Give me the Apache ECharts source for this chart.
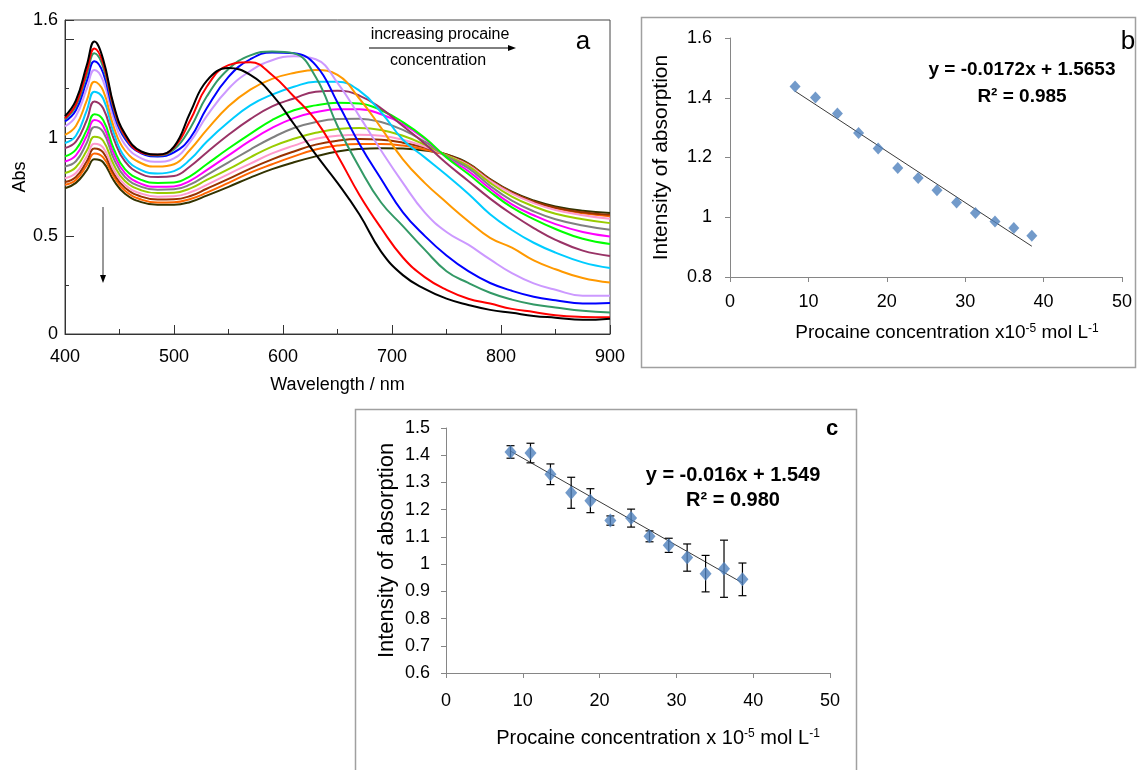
<!DOCTYPE html>
<html><head><meta charset="utf-8">
<script src="https://cdn.jsdelivr.net/npm/echarts@6/dist/echarts.min.js"></script>
<style>html,body{margin:0;padding:0;background:#fff}#c{width:1137px;height:770px}</style>
</head><body><div id="c"></div><script>
// ---------- Panel a: absorption spectra ----------
const wavelengths = [400, 410, 420, 427, 435, 445, 455, 470, 485, 500, 515, 530, 550, 570, 590, 610, 630, 650, 670, 690, 710, 730, 750, 770, 790, 810, 830, 850, 875, 900];
const abs01 = [1.11, 1.19, 1.37, 1.49, 1.40, 1.16, 1.02, 0.93, 0.915, 0.955, 1.13, 1.29, 1.355, 1.32, 1.22, 1.07, 0.915, 0.77, 0.61, 0.42, 0.30, 0.23, 0.18, 0.148, 0.123, 0.108, 0.092, 0.083, 0.072, 0.078];
const abs02 = [1.10, 1.17, 1.34, 1.455, 1.38, 1.15, 1.01, 0.925, 0.913, 0.95, 1.09, 1.26, 1.37, 1.385, 1.32, 1.21, 1.09, 0.91, 0.71, 0.54, 0.39, 0.29, 0.225, 0.18, 0.155, 0.128, 0.112, 0.095, 0.087, 0.085];
const abs03 = [1.095, 1.16, 1.32, 1.43, 1.36, 1.14, 1.005, 0.925, 0.91, 0.94, 1.05, 1.21, 1.35, 1.42, 1.44, 1.43, 1.31, 1.06, 0.85, 0.67, 0.55, 0.43, 0.32, 0.26, 0.21, 0.175, 0.15, 0.135, 0.118, 0.11];
const abs04 = [1.083, 1.14, 1.29, 1.39, 1.33, 1.12, 0.995, 0.92, 0.905, 0.925, 1.00, 1.15, 1.31, 1.40, 1.435, 1.43, 1.37, 1.18, 0.97, 0.79, 0.62, 0.50, 0.40, 0.32, 0.26, 0.22, 0.19, 0.172, 0.155, 0.158];
const abs05 = [1.058, 1.11, 1.25, 1.345, 1.29, 1.09, 0.965, 0.895, 0.878, 0.895, 0.98, 1.11, 1.25, 1.34, 1.395, 1.415, 1.40, 1.28, 1.11, 0.935, 0.77, 0.62, 0.52, 0.455, 0.38, 0.31, 0.258, 0.225, 0.195, 0.195];
const abs06 = [1.015, 1.06, 1.19, 1.285, 1.24, 1.05, 0.935, 0.87, 0.853, 0.865, 0.94, 1.04, 1.16, 1.245, 1.30, 1.33, 1.345, 1.32, 1.20, 1.05, 0.89, 0.77, 0.67, 0.575, 0.49, 0.44, 0.375, 0.33, 0.285, 0.262];
const abs07 = [0.973, 1.01, 1.14, 1.235, 1.20, 1.02, 0.90, 0.835, 0.818, 0.83, 0.89, 0.98, 1.08, 1.165, 1.22, 1.26, 1.285, 1.285, 1.24, 1.13, 0.99, 0.90, 0.81, 0.715, 0.61, 0.53, 0.465, 0.415, 0.365, 0.336];
const abs08 = [0.947, 0.98, 1.09, 1.185, 1.15, 0.99, 0.88, 0.815, 0.80, 0.805, 0.855, 0.925, 1.015, 1.095, 1.16, 1.20, 1.235, 1.24, 1.215, 1.15, 1.06, 0.97, 0.87, 0.78, 0.69, 0.61, 0.54, 0.48, 0.425, 0.398];
const abs09 = [0.905, 0.94, 1.04, 1.12, 1.09, 0.94, 0.84, 0.785, 0.77, 0.772, 0.805, 0.865, 0.945, 1.02, 1.09, 1.14, 1.165, 1.178, 1.175, 1.14, 1.08, 1.00, 0.90, 0.815, 0.725, 0.645, 0.585, 0.535, 0.485, 0.459];
const abs10 = [0.879, 0.91, 1.01, 1.09, 1.06, 0.915, 0.82, 0.765, 0.75, 0.752, 0.782, 0.835, 0.91, 0.985, 1.05, 1.10, 1.13, 1.145, 1.145, 1.12, 1.07, 0.995, 0.90, 0.83, 0.74, 0.66, 0.605, 0.56, 0.52, 0.497];
const abs11 = [0.854, 0.88, 0.975, 1.055, 1.03, 0.89, 0.80, 0.75, 0.735, 0.737, 0.762, 0.81, 0.875, 0.94, 1.00, 1.05, 1.08, 1.095, 1.097, 1.08, 1.04, 0.98, 0.905, 0.845, 0.755, 0.68, 0.625, 0.585, 0.553, 0.531];
const abs12 = [0.82, 0.85, 0.935, 1.005, 0.985, 0.86, 0.78, 0.732, 0.718, 0.72, 0.742, 0.785, 0.84, 0.90, 0.955, 0.995, 1.025, 1.045, 1.05, 1.04, 1.01, 0.965, 0.91, 0.855, 0.77, 0.70, 0.65, 0.613, 0.585, 0.565];
const abs13 = [0.794, 0.82, 0.905, 0.97, 0.95, 0.835, 0.76, 0.715, 0.70, 0.702, 0.722, 0.76, 0.815, 0.868, 0.92, 0.96, 0.995, 1.01, 1.015, 1.01, 0.99, 0.955, 0.91, 0.86, 0.78, 0.715, 0.667, 0.632, 0.605, 0.587];
const abs14 = [0.774, 0.80, 0.88, 0.945, 0.925, 0.815, 0.745, 0.70, 0.685, 0.686, 0.703, 0.74, 0.79, 0.843, 0.89, 0.93, 0.965, 0.985, 0.993, 0.99, 0.975, 0.95, 0.915, 0.865, 0.785, 0.72, 0.675, 0.643, 0.62, 0.607];
const abs15 = [0.76, 0.785, 0.86, 0.92, 0.90, 0.80, 0.73, 0.685, 0.67, 0.671, 0.688, 0.72, 0.77, 0.822, 0.865, 0.905, 0.94, 0.96, 0.968, 0.968, 0.96, 0.94, 0.91, 0.865, 0.785, 0.72, 0.673, 0.64, 0.615, 0.60];
const abs16 = [0.743, 0.77, 0.835, 0.89, 0.875, 0.78, 0.715, 0.672, 0.658, 0.658, 0.673, 0.705, 0.75, 0.797, 0.84, 0.875, 0.905, 0.93, 0.943, 0.947, 0.945, 0.935, 0.915, 0.87, 0.79, 0.725, 0.68, 0.65, 0.628, 0.616];
const spectrumColors = ['#000000', '#ff0000', '#339966', '#0000ff', '#cc99ff', '#ff9900', '#00ccff', '#993366', '#00ff00', '#ff00ff', '#808080', '#99cc00', '#ff99cc', '#993300', '#ff6600', '#333300'];
const yTicksA = [0, 0.5, 1, 1.6];

// ---------- Panel b ----------
const bX = [8.3, 10.9, 13.7, 16.4, 18.9, 21.4, 24.0, 26.4, 28.9, 31.3, 33.8, 36.2, 38.5];
const bY = [1.438, 1.401, 1.347, 1.282, 1.230, 1.165, 1.131, 1.090, 1.049, 1.014, 0.986, 0.964, 0.938];
const bTrendX = [8.3, 38.5];
const bTrendY = [1.422, 0.903];

// ---------- Panel c ----------
const cX = [8.4, 11.0, 13.6, 16.3, 18.8, 21.4, 24.1, 26.5, 29.0, 31.4, 33.8, 36.2, 38.6];
const cY = [1.412, 1.408, 1.330, 1.262, 1.233, 1.160, 1.169, 1.102, 1.069, 1.024, 0.965, 0.983, 0.944];
const cErr = [0.023, 0.036, 0.038, 0.057, 0.044, 0.017, 0.033, 0.020, 0.026, 0.050, 0.067, 0.105, 0.060];
const cTrendX = [8.4, 38.6];
const cTrendY = [1.415, 0.931];

const FONT = "'Liberation Sans', Arial, sans-serif";
const spectra = [abs01, abs02, abs03, abs04, abs05, abs06, abs07, abs08, abs09, abs10, abs11, abs12, abs13, abs14, abs15, abs16];

const chart = echarts.init(document.getElementById('c'), null, {renderer: 'canvas'});

const specSeries = spectra.map((arr, i) => ({
  type: 'line', xAxisIndex: 0, yAxisIndex: 0,
  data: wavelengths.map((w, k) => [w, arr[k]]),
  smooth: 0.45, showSymbol: false, symbol: 'none',
  lineStyle: {width: 2, color: spectrumColors[i]}, itemStyle: {color: spectrumColors[i]},
  z: 20 - i, silent: true
})).reverse();

const grayAxis = '#868686';
const supRich = {sup: {fontSize: 12, verticalAlign: 'top', fontFamily: FONT, color: '#000'}};

function txt(x, y, text, size, weight, extra) {
  return Object.assign({type: 'text', x: x, y: y, silent: true,
    style: {text: text, fontSize: size, fontWeight: weight || 'normal', fontFamily: FONT, fill: '#000',
      align: 'center', verticalAlign: 'middle', textAlign: 'center', textVerticalAlign: 'middle'}}, extra || {});
}

const option = {
  animation: false,
  backgroundColor: '#fff',
  grid: [
    {left: 65, top: 20, width: 545, height: 314, show: true, borderColor: '#444', borderWidth: 1, backgroundColor: 'transparent'},
    {left: 730, top: 38, width: 392, height: 239},
    {left: 446, top: 428, width: 384, height: 245}
  ],
  xAxis: [
    {gridIndex: 0, type: 'value', min: 400, max: 900, interval: 100,
     axisLine: {lineStyle: {color: '#333', width: 1}}, axisTick: {inside: true, length: 9, lineStyle: {color: '#333'}},
     minorTick: {show: true, splitNumber: 2, length: 5, lineStyle: {color: '#333'}},
     axisLabel: {fontSize: 18, color: '#000', fontFamily: FONT, margin: 14}, splitLine: {show: false},
     name: 'Wavelength / nm', nameLocation: 'middle', nameGap: 42,
     nameTextStyle: {fontSize: 18, color: '#000', fontFamily: FONT}},
    {gridIndex: 1, type: 'value', min: 0, max: 50, interval: 10,
     axisLine: {lineStyle: {color: grayAxis}}, axisTick: {length: 5, lineStyle: {color: grayAxis}},
     axisLabel: {fontSize: 18, color: '#000', fontFamily: FONT, margin: 16}, splitLine: {show: false},
     name: 'Procaine concentration x10{sup|-5} mol L{sup|-1}', nameLocation: 'middle', nameGap: 46,
     nameTextStyle: {fontSize: 19, color: '#000', fontFamily: FONT, padding: [0, 0, 0, 42], rich: supRich}},
    {gridIndex: 2, type: 'value', min: 0, max: 50, interval: 10,
     axisLine: {lineStyle: {color: grayAxis}}, axisTick: {length: 5, lineStyle: {color: grayAxis}},
     axisLabel: {fontSize: 18, color: '#000', fontFamily: FONT, margin: 19}, splitLine: {show: false},
     name: 'Procaine concentration x 10{sup|-5} mol L{sup|-1}', nameLocation: 'middle', nameGap: 55,
     nameTextStyle: {fontSize: 20, color: '#000', fontFamily: FONT, padding: [0, 0, 0, 40], rich: supRich}}
  ],
  yAxis: [
    {gridIndex: 0, type: 'value', min: 0, max: 1.6, interval: 0.5,
     axisLine: {show: true, lineStyle: {color: '#333', width: 1}}, axisTick: {show: true, inside: true, length: 9, lineStyle: {color: '#333'}},
     minorTick: {show: true, splitNumber: 2, length: 4, lineStyle: {color: '#333'}},
     axisLabel: {fontSize: 18, color: '#000', fontFamily: FONT, margin: 7,
       formatter: v => (yTicksA.indexOf(Math.round(v * 100) / 100) >= 0 ? String(Math.round(v * 100) / 100) : '')},
     splitLine: {show: false},
     name: 'Abs', nameLocation: 'middle', nameGap: 36, nameRotate: 90,
     nameTextStyle: {fontSize: 18, color: '#000', fontFamily: FONT}},
    {gridIndex: 1, type: 'value', min: 0.8, max: 1.6, interval: 0.2,
     axisLine: {show: true, lineStyle: {color: grayAxis}}, axisTick: {show: true, length: 5, lineStyle: {color: grayAxis}},
     axisLabel: {fontSize: 18, color: '#000', fontFamily: FONT, margin: 18, formatter: v => String(parseFloat(v.toFixed(1)))},
     splitLine: {show: false},
     name: 'Intensity of absorption', nameLocation: 'middle', nameGap: 58, nameRotate: 90,
     nameTextStyle: {fontSize: 21, color: '#000', fontFamily: FONT}},
    {gridIndex: 2, type: 'value', min: 0.6, max: 1.5, interval: 0.1,
     axisLine: {show: true, lineStyle: {color: grayAxis}}, axisTick: {show: true, length: 5, lineStyle: {color: grayAxis}},
     axisLabel: {fontSize: 18, color: '#000', fontFamily: FONT, margin: 16, formatter: v => String(parseFloat(v.toFixed(1)))},
     splitLine: {show: false},
     name: 'Intensity of absorption', nameLocation: 'middle', nameGap: 48, nameRotate: 90,
     nameTextStyle: {fontSize: 22, color: '#000', fontFamily: FONT}}
  ],
  series: specSeries.concat([
    {type: 'line', xAxisIndex: 1, yAxisIndex: 1, data: bTrendX.map((x, i) => [x, bTrendY[i]]),
     showSymbol: false, symbol: 'none', lineStyle: {color: '#3a3a3a', width: 1}, z: 5, silent: true},
    {type: 'scatter', xAxisIndex: 1, yAxisIndex: 1, data: bX.map((x, i) => [x, bY[i]]),
     symbol: 'diamond', symbolSize: [11, 12], itemStyle: {color: '#4f81bd'}, z: 6, silent: true},
    {type: 'line', xAxisIndex: 2, yAxisIndex: 2, data: cTrendX.map((x, i) => [x, cTrendY[i]]),
     showSymbol: false, symbol: 'none', lineStyle: {color: '#3a3a3a', width: 1}, z: 5, silent: true},
    {type: 'custom', xAxisIndex: 2, yAxisIndex: 2, silent: true, z: 6,
     data: cX.map((x, i) => [x, cY[i] - cErr[i], cY[i] + cErr[i]]),
     encode: {x: 0, y: [1, 2]},
     renderItem: function (params, api) {
       const x = api.value(0);
       const lo = api.coord([x, api.value(1)]);
       const hi = api.coord([x, api.value(2)]);
       const w = 4;
       const st = {stroke: '#000', lineWidth: 1.2};
       return {type: 'group', children: [
         {type: 'line', shape: {x1: lo[0], y1: lo[1], x2: hi[0], y2: hi[1]}, style: st},
         {type: 'line', shape: {x1: lo[0] - w, y1: lo[1], x2: lo[0] + w, y2: lo[1]}, style: st},
         {type: 'line', shape: {x1: hi[0] - w, y1: hi[1], x2: hi[0] + w, y2: hi[1]}, style: st}
       ]};
     }},
    {type: 'scatter', xAxisIndex: 2, yAxisIndex: 2, data: cX.map((x, i) => [x, cY[i]]),
     symbol: 'diamond', symbolSize: [12, 14], itemStyle: {color: '#4f81bd'}, z: 7, silent: true}
  ]),
  graphic: [
    {type: 'rect', silent: true, shape: {x: 641.5, y: 17.5, width: 494, height: 350}, style: {fill: 'none', stroke: '#a0a0a0', lineWidth: 1.5}},
    {type: 'rect', silent: true, shape: {x: 355.5, y: 409.5, width: 501, height: 380}, style: {fill: 'none', stroke: '#a0a0a0', lineWidth: 1.5}},
    txt(583, 42, 'a', 26),
    txt(1128, 42, 'b', 26),
    txt(832, 429, 'c', 22, 'bold'),
    txt(440, 35, 'increasing procaine', 16),
    txt(438, 61, 'concentration', 16),
    {type: 'line', silent: true, shape: {x1: 369, y1: 48, x2: 510, y2: 48}, style: {stroke: '#000', lineWidth: 1}},
    {type: 'polygon', silent: true, shape: {points: [[516, 48], [508, 45], [508, 51]]}, style: {fill: '#000'}},
    {type: 'line', silent: true, shape: {x1: 103, y1: 207, x2: 103, y2: 277}, style: {stroke: '#333', lineWidth: 1}},
    {type: 'polygon', silent: true, shape: {points: [[103, 283], [100, 275], [106, 275]]}, style: {fill: '#000'}},
    txt(1022, 70, 'y = -0.0172x + 1.5653', 19, 'bold'),
    txt(1022, 97, 'R² = 0.985', 19, 'bold'),
    txt(733, 475, 'y = -0.016x + 1.549', 20, 'bold'),
    txt(733, 500, 'R² = 0.980', 20, 'bold')
  ]
};
chart.setOption(option);
</script></body></html>
